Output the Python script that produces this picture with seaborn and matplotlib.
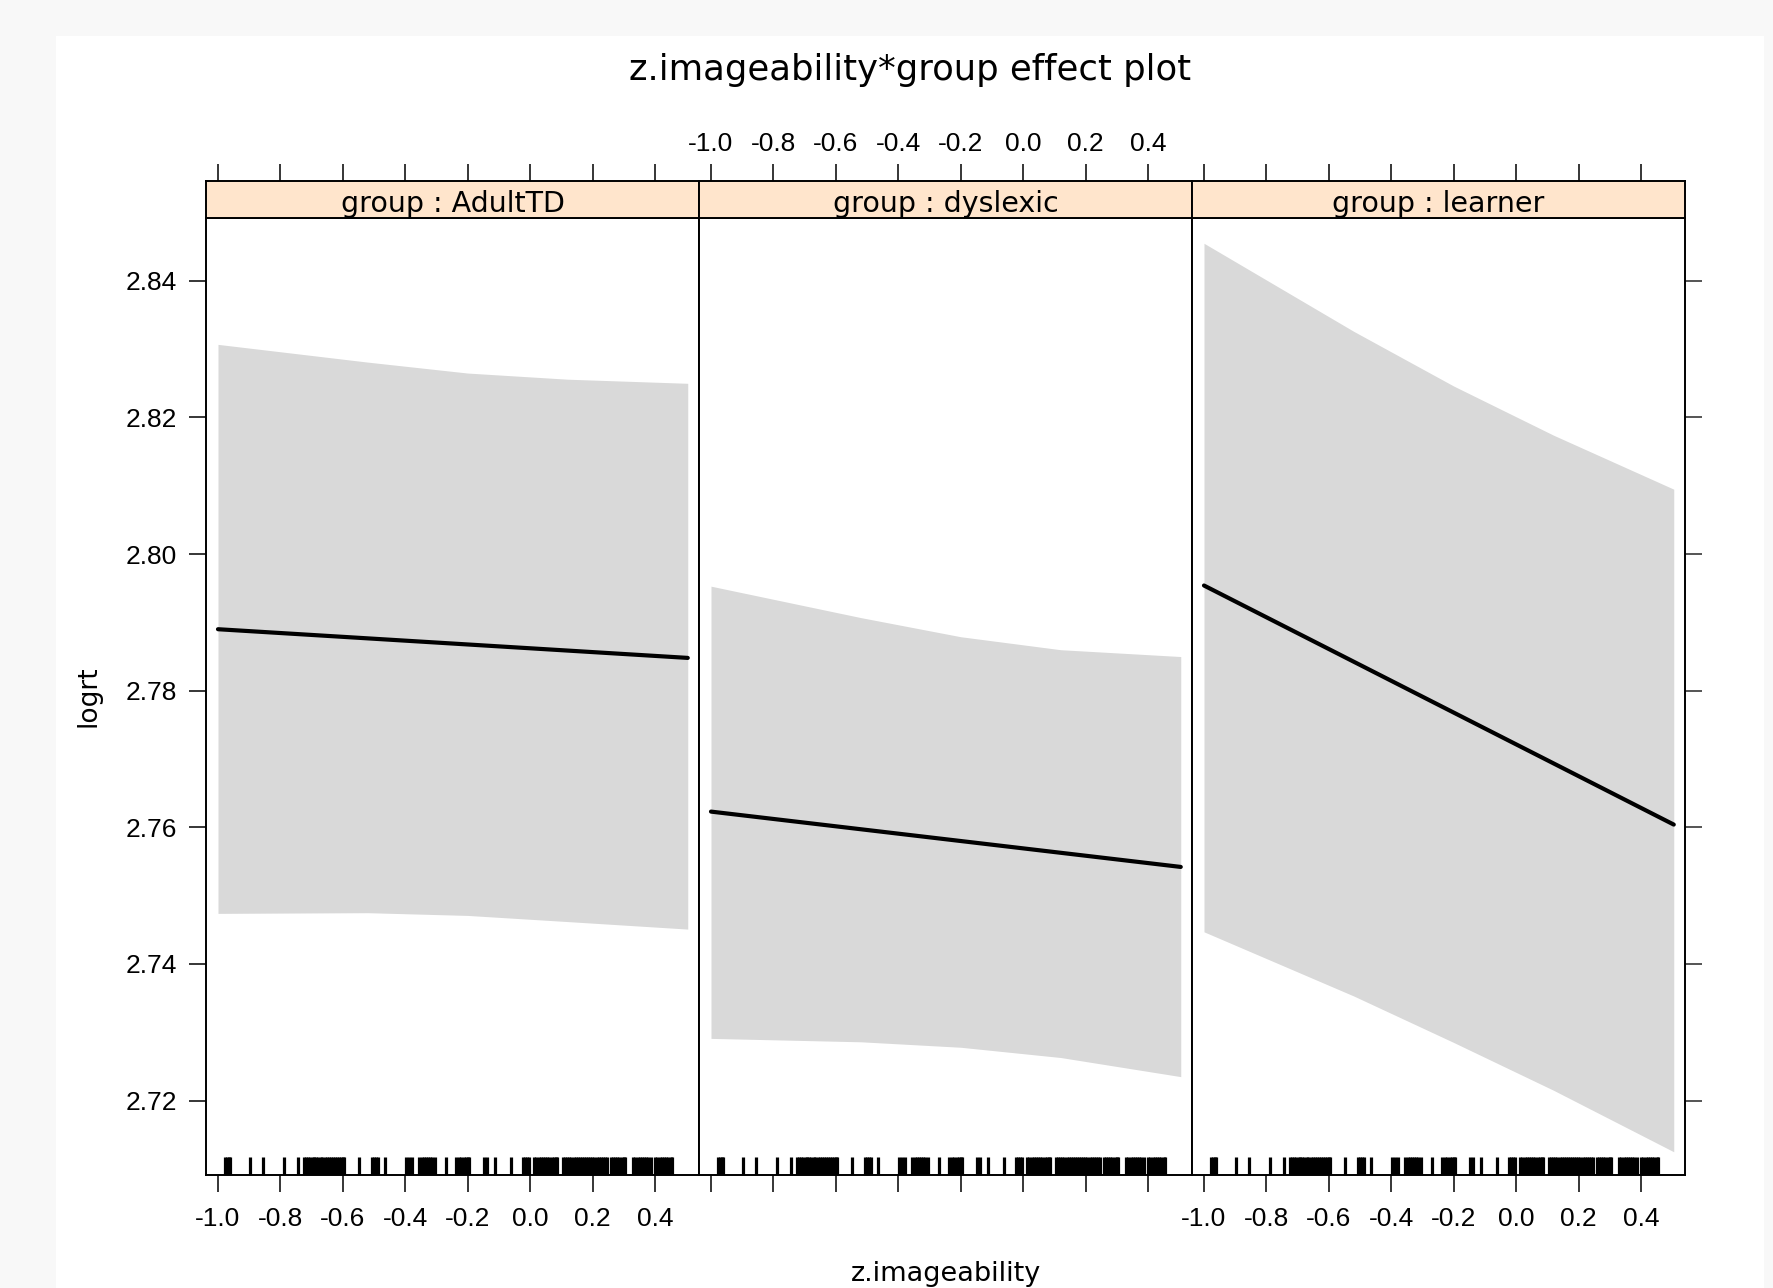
import numpy as np
import pandas as pd
import matplotlib
matplotlib.use("Agg")
import matplotlib.pyplot as plt
from matplotlib.patches import Rectangle
import seaborn as sns

# ---------------- data ----------------
groups = ["AdultTD", "dyslexic", "learner"]

band_x = [-1.0, -0.52, -0.2, 0.12, 0.505]
upper_adulttd = [2.8307, 2.8281, 2.8265, 2.8256, 2.8250]
lower_adulttd = [2.7474, 2.7475, 2.7471, 2.7462, 2.7451]
upper_dyslexic = [2.7953, 2.7907, 2.7879, 2.7860, 2.7850]
lower_dyslexic = [2.7291, 2.7286, 2.7278, 2.7263, 2.7235]
upper_learner = [2.8455, 2.8326, 2.8246, 2.8174, 2.8095]
lower_learner = [2.7447, 2.7353, 2.7285, 2.7215, 2.7125]

line_x = [-1.0, 0.505]
fit_adulttd = [2.7890, 2.7848]
fit_dyslexic = [2.7623, 2.7542]
fit_learner = [2.7954, 2.7604]

rug_x = [
    -0.979, -0.972, -0.966, -0.962,
    -0.898, -0.856, -0.787, -0.745,
    -0.725, -0.718, -0.711, -0.704, -0.697, -0.694,
    -0.685, -0.678, -0.671, -0.667,
    -0.656, -0.650, -0.644, -0.639,
    -0.633, -0.626, -0.619, -0.612, -0.605, -0.598, -0.595,
    -0.547,
    -0.505, -0.499, -0.493, -0.487,
    -0.464,
    -0.397, -0.387, -0.378,
    -0.355, -0.348, -0.341, -0.334, -0.327, -0.320, -0.313, -0.305,
    -0.270, -0.239,
    -0.227, -0.220, -0.213, -0.206, -0.199, -0.195,
    -0.147, -0.139, -0.113, -0.062,
    -0.022, -0.015, -0.009, -0.005,
    0.013, 0.020, 0.027, 0.034, 0.041, 0.048, 0.055, 0.062, 0.069, 0.076, 0.083, 0.087,
    0.104, 0.111, 0.118, 0.125, 0.132, 0.139, 0.146, 0.153, 0.160, 0.167, 0.173,
    0.178, 0.185, 0.192, 0.199, 0.206, 0.213, 0.220, 0.227, 0.234, 0.241, 0.247,
    0.258, 0.265, 0.272, 0.279, 0.286, 0.293, 0.300, 0.304,
    0.330, 0.337, 0.344, 0.351, 0.358, 0.365, 0.372, 0.379, 0.387,
    0.401, 0.408, 0.415, 0.422, 0.429, 0.436, 0.443, 0.450, 0.455,
]

x_ticks = [-1.0, -0.8, -0.6, -0.4, -0.2, 0.0, 0.2, 0.4]
x_tick_labels = ["-1.0", "-0.8", "-0.6", "-0.4", "-0.2", "0.0", "0.2", "0.4"]
y_ticks = [2.72, 2.74, 2.76, 2.78, 2.80, 2.82, 2.84]
y_tick_labels = ["2.72", "2.74", "2.76", "2.78", "2.80", "2.82", "2.84"]

title_text = "z.imageability*group effect plot"
x_label = "z.imageability"
y_label = "logrt"

uppers = [upper_adulttd, upper_dyslexic, upper_learner]
lowers = [lower_adulttd, lower_dyslexic, lower_learner]
fits = [fit_adulttd, fit_dyslexic, fit_learner]

# ---------------- style ----------------
sns.set_style("ticks")
plt.rcParams["font.family"] = ["DejaVu Sans"]
plt.rcParams["axes.unicode_minus"] = False
plt.rcParams["axes.linewidth"] = 1.4
plt.rcParams["axes.edgecolor"] = "black"

W, H = 1773, 1288
fig = plt.figure(figsize=(W / 100, H / 100), dpi=100, facecolor="#f8f8f8")
fig.patches.append(Rectangle((56 / W, 0), (1764 - 56) / W, (H - 36) / H,
                             transform=fig.transFigure, facecolor="white",
                             edgecolor="none", zorder=-10))

XLIM = (-1.0384, 0.541)
YLIM = (2.7091, 2.8492)
panel_w = 493
tick_font = "Liberation Sans"

for i, g in enumerate(groups):
    left = (206 + i * panel_w) / W
    ax = fig.add_axes([left, 113 / H, panel_w / W, 957 / H])
    sax = fig.add_axes([left, 1070 / H, panel_w / W, 37 / H])

    ax.fill_between(band_x, lowers[i], uppers[i], color="#d9d9d9",
                    linewidth=0, zorder=1)
    sns.rugplot(x=rug_x, height=18 / 957, ax=ax, color="black",
                linewidth=2.3, expand_margins=False, zorder=2)
    sns.lineplot(x=line_x, y=fits[i], ax=ax, color="black",
                 linewidth=3.0, zorder=3)

    ax.set_xlim(*XLIM)
    ax.set_ylim(*YLIM)
    ax.set_facecolor("white")
    ax.set_xlabel("")
    ax.set_ylabel("")
    for s in ax.spines.values():
        s.set_visible(True)
        s.set_color("black")
        s.set_linewidth(1.4)

    ax.set_xticks(x_ticks, labels=x_tick_labels, fontfamily=tick_font, fontsize=19)
    ax.tick_params(axis="x", direction="out", length=12, width=1.1,
                   bottom=True, top=False, labelbottom=(i != 1),
                   labeltop=False, pad=11, colors="black")

    ax.set_yticks(y_ticks, labels=y_tick_labels, fontfamily=tick_font, fontsize=19)
    if i == 0:
        ax.tick_params(axis="y", direction="out", length=12, width=1.1,
                       left=True, right=False, labelleft=True,
                       labelright=False, pad=9, colors="black")
    elif i == 2:
        ax.tick_params(axis="y", direction="out", length=12, width=1.1,
                       left=False, right=True, labelleft=False,
                       labelright=False)
    else:
        ax.tick_params(axis="y", left=False, right=False,
                       labelleft=False, labelright=False)

    # strip
    sax.set_facecolor("#ffe5cc")
    sax.set_xlim(*XLIM)
    sax.set_ylim(0, 1)
    sax.set_yticks([])
    sax.set_xticks(x_ticks, labels=x_tick_labels, fontfamily=tick_font, fontsize=19)
    sax.tick_params(axis="x", direction="out", length=12, width=1.1,
                    bottom=False, top=True, labelbottom=False,
                    labeltop=(i == 1), pad=6, colors="black")
    for s in sax.spines.values():
        s.set_visible(True)
        s.set_color("black")
        s.set_linewidth(1.4)
    sax.text(0.5, 0.17, f"group : {g}", transform=sax.transAxes,
             ha="center", va="baseline", fontsize=20.5, color="black")

fig.text(910 / W, 1 - 80 / H, title_text, ha="center", va="baseline",
         fontsize=25.5, color="black")
fig.text(946 / W, 7 / H, x_label, ha="center", va="baseline",
         fontsize=19.5, color="black")
fig.text(88 / W, (H - 696) / H, y_label, rotation=90, ha="center",
         va="center", fontsize=19, color="black")

fig.savefig("out.png", dpi=100, facecolor=fig.get_facecolor())
